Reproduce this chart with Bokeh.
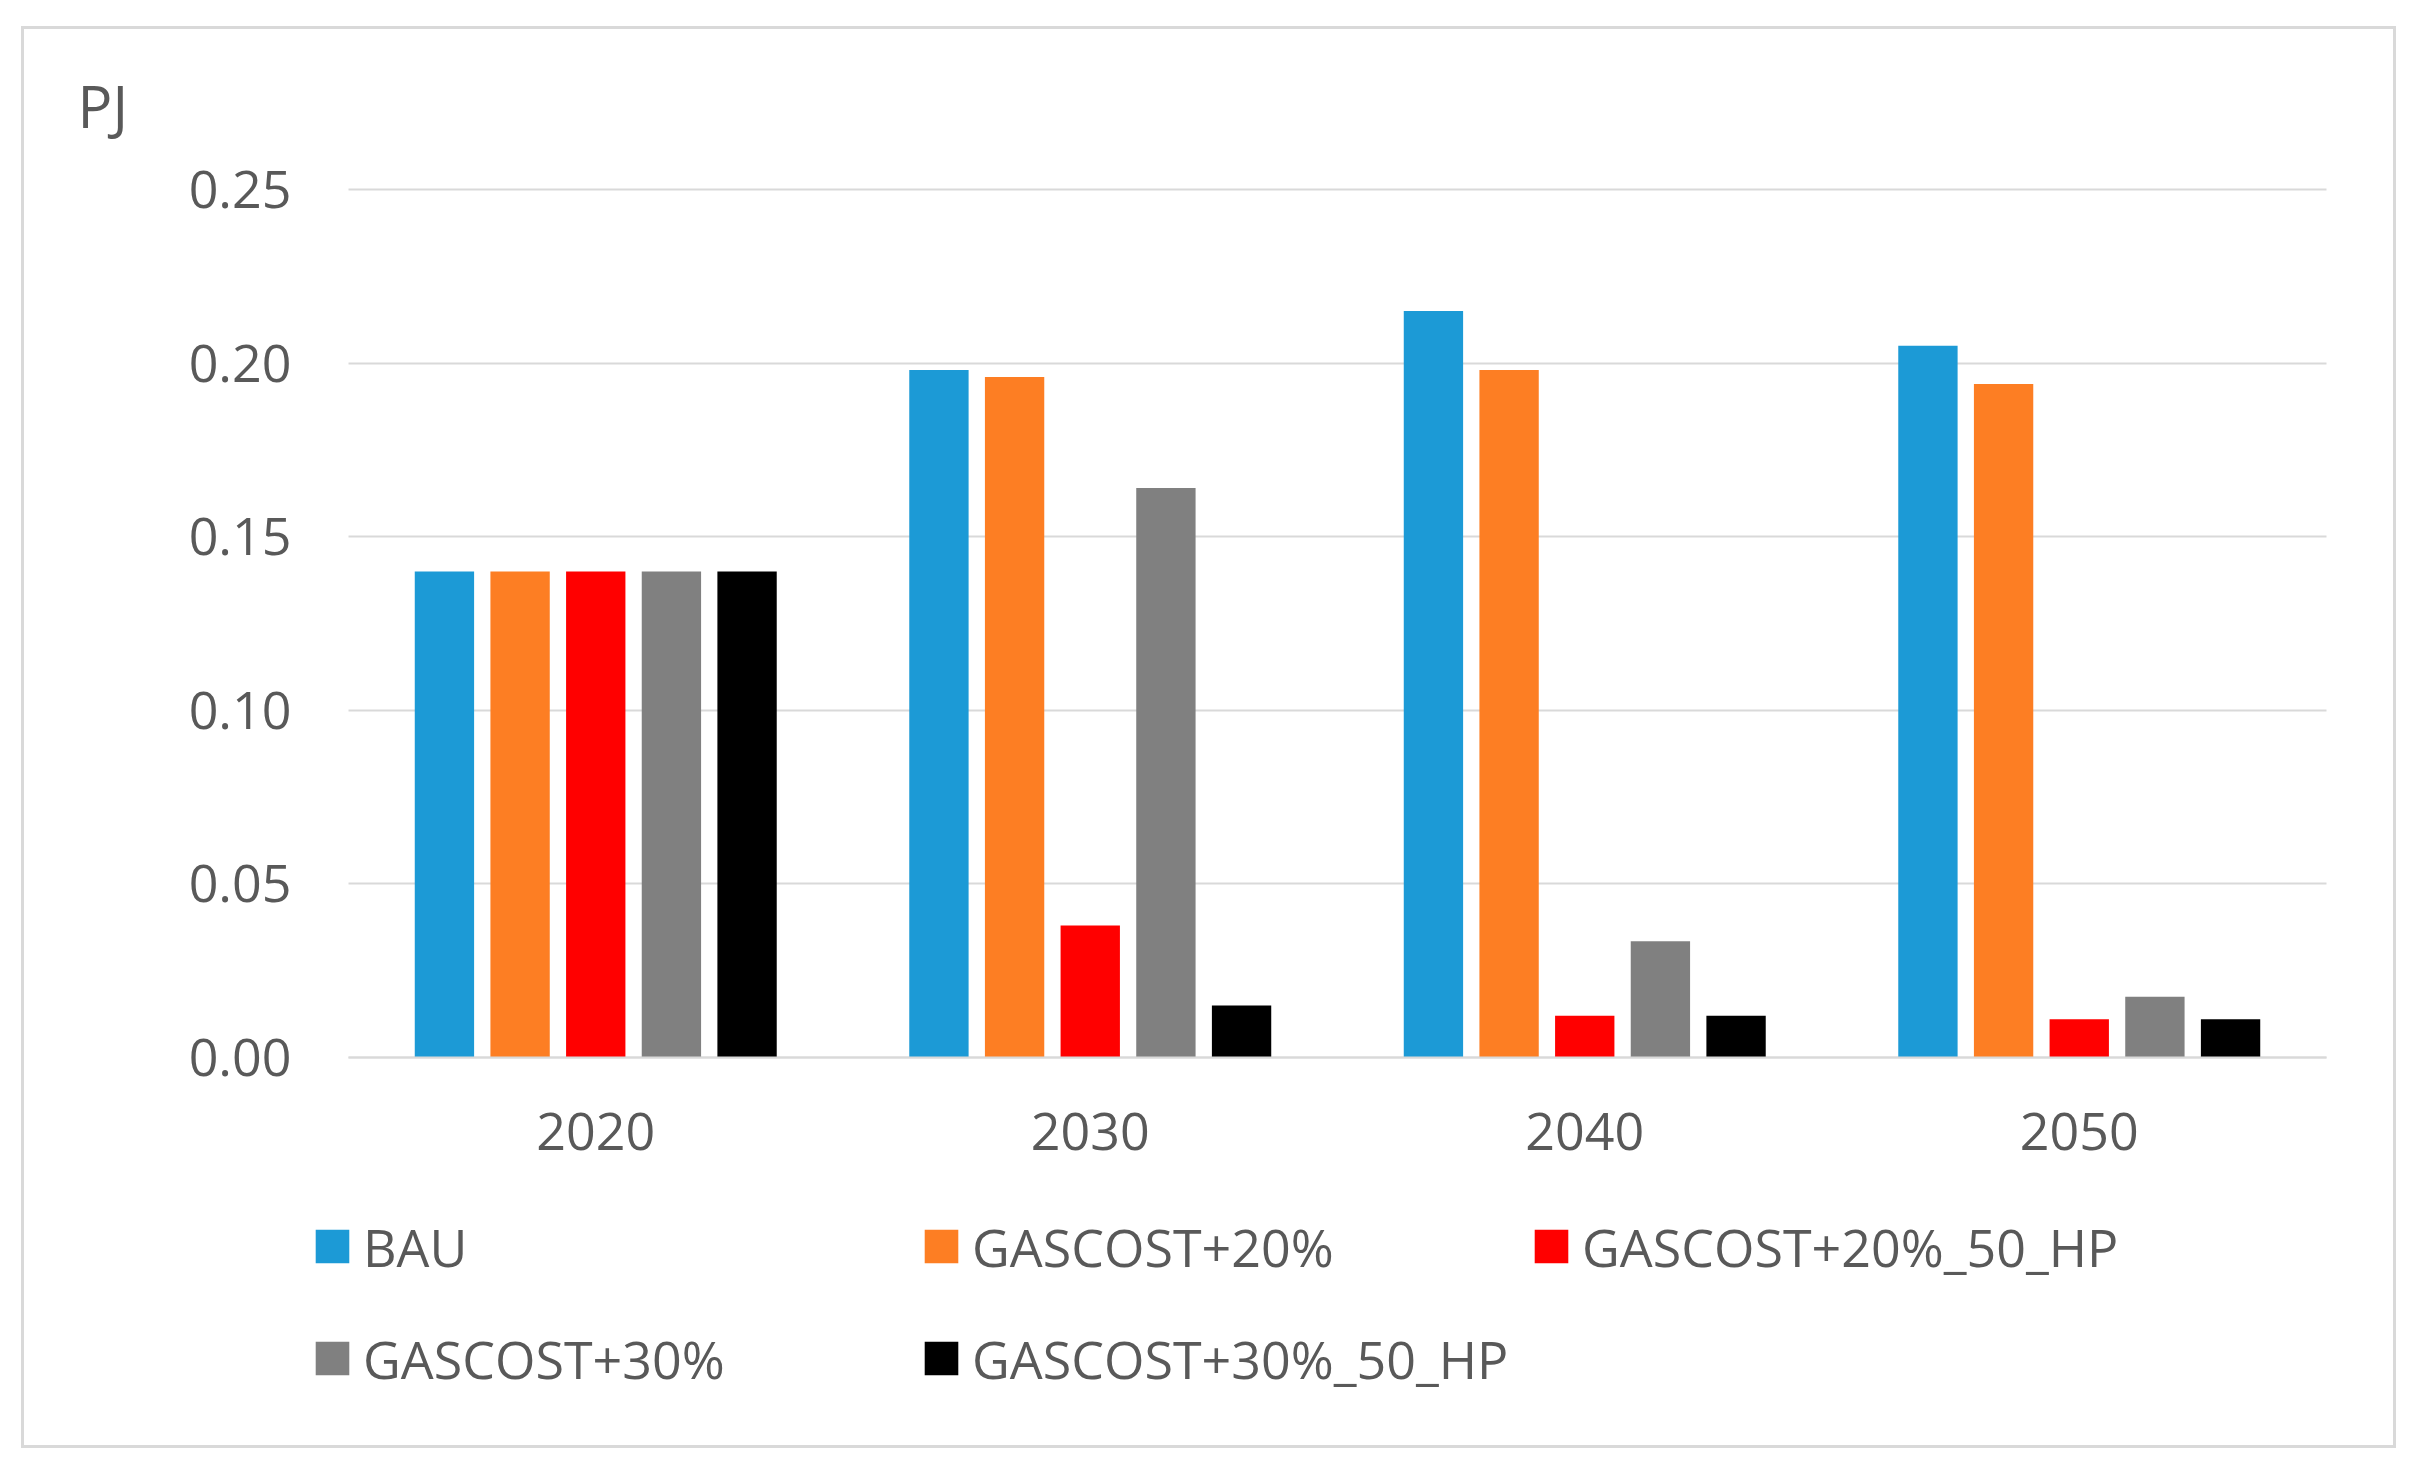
from bokeh.plotting import figure
from bokeh.models import Range1d, Legend, LegendItem, Label, FixedTicker, NumeralTickFormatter, Spacer
from bokeh.layouts import column, row
from bokeh.embed import file_html
from bokeh.resources import INLINE

years = ["2020", "2030", "2040", "2050"]
bau = [0.140, 0.198, 0.215, 0.205]
gas20 = [0.140, 0.196, 0.198, 0.194]
gas20_hp = [0.140, 0.038, 0.012, 0.011]
gas30 = [0.140, 0.164, 0.0335, 0.0175]
gas30_hp = [0.140, 0.015, 0.012, 0.011]
y_ticks = [0.0, 0.05, 0.10, 0.15, 0.20, 0.25]

series_names = ["BAU", "GASCOST+20%", "GASCOST+20%_50_HP", "GASCOST+30%", "GASCOST+30%_50_HP"]
series_vals = [bau, gas20, gas20_hp, gas30, gas30_hp]
colors = ["#1C9AD6", "#FD7E23", "#FF0000", "#808080", "#000000"]

FONT = "Open Sans"
TXT = "#595959"
GRID = "#D9D9D9"

W, H = 2375, 1422
PLOT_L, PLOT_R = 324, 2302      # plot-area pixel edges inside the figure
PLOT_T, PLOT_B = 160, 1028
ncat = len(years)
px_per_cat = (PLOT_R - PLOT_L) / ncat
px_per_unit = (PLOT_B - PLOT_T) / 0.25
x_range = Range1d(-PLOT_L / px_per_cat, ncat + (W - PLOT_R) / px_per_cat)
y_range = Range1d(-(H - PLOT_B) / px_per_unit, 0.25 + PLOT_T / px_per_unit)

p = figure(x_range=x_range, y_range=y_range, width=W, height=H,
           output_backend="svg", toolbar_location=None, title_location=None,
           min_border_left=0, min_border_right=0, min_border_top=0, min_border_bottom=0)
p.styles = {"border": "3px solid #D9D9D9"}
p.outline_line_color = None
p.background_fill_color = "white"
p.border_fill_color = "white"

x_centers = [i + 0.5 for i in range(ncat)]
step = 0.153
renderers = []
for k, name in enumerate(series_names):
    xs = [c + (k - 2) * step for c in x_centers]
    r = p.vbar(x=xs, top=series_vals[k], width=0.12, fill_color=colors[k], line_color=None)
    renderers.append(r)

# axes placed at data locations inside the plot area
p.xaxis.fixed_location = 0
p.xaxis.bounds = (0, ncat)
p.xaxis.ticker = FixedTicker(ticks=x_centers)
p.xaxis.major_label_overrides = {c: y for c, y in zip(x_centers, years)}
p.xaxis.axis_line_color = GRID
p.xaxis.axis_line_width = 2
p.xaxis.major_label_standoff = 55

p.yaxis.fixed_location = 0
p.yaxis.bounds = (0, 0.25)
p.yaxis.ticker = FixedTicker(ticks=y_ticks)
p.yaxis.formatter = NumeralTickFormatter(format="0.00")
p.yaxis.axis_line_color = None
p.yaxis.major_label_standoff = 57

for ax in (p.xaxis, p.yaxis):
    ax.major_tick_out = 0
    ax.major_tick_in = 0
    ax.minor_tick_out = 0
    ax.minor_tick_in = 0
    ax.major_label_text_font = FONT
    ax.major_label_text_font_size = "52px"
    ax.major_label_text_color = TXT

p.xgrid.grid_line_color = None
p.ygrid.ticker = FixedTicker(ticks=y_ticks)
p.ygrid.cross_bounds = (0, ncat)
p.ygrid.grid_line_color = GRID
p.ygrid.grid_line_width = 2

p.add_layout(Label(x=53, y=H - 76, x_units="screen", y_units="screen", text="PJ",
                   text_font=FONT, text_font_size="58px", text_color=TXT,
                   text_baseline="alphabetic"))

cols = [[0, 3], [1, 4], [2]]
col_x = [287, 896, 1506]
row_h = 71
row_pitch = 112
row1_center = 1217
for c, idxs in enumerate(cols):
    items = [LegendItem(label=series_names[i], renderers=[renderers[i]]) for i in idxs]
    n = len(idxs)
    bottom_px = row1_center + (n - 1) * row_pitch + row_h / 2
    leg = Legend(items=items, location=(col_x[c], H - bottom_px), orientation="vertical",
                 glyph_width=42, glyph_height=42, label_standoff=10, spacing=row_pitch - row_h,
                 padding=0, margin=0, border_line_color=None, background_fill_alpha=0,
                 label_text_font=FONT, label_text_font_size="52px", label_text_color=TXT)
    p.add_layout(leg, "center")

layout = column(Spacer(height=26), row(Spacer(width=21), p))
open("out.html", "w").write(file_html(layout, INLINE))
